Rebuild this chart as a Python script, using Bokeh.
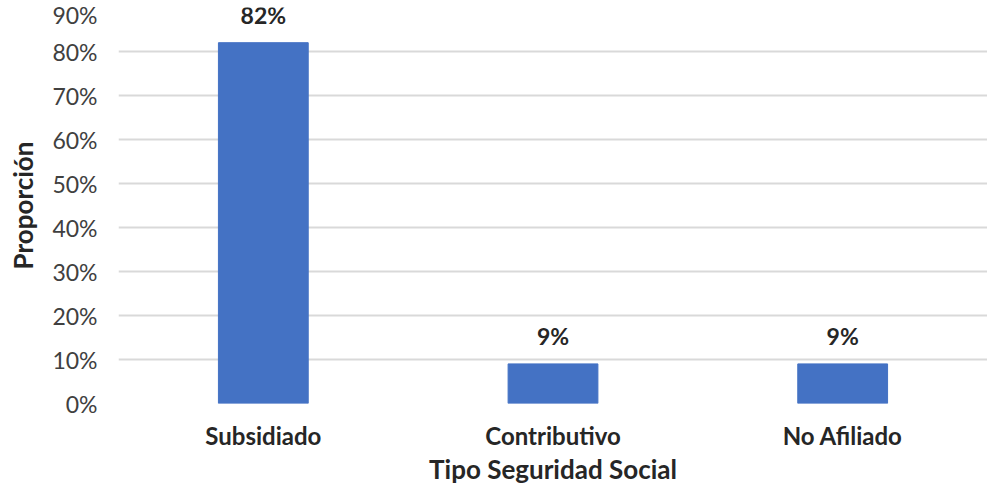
from bokeh.plotting import figure
from bokeh.models import (ColumnDataSource, FixedTicker, NumeralTickFormatter, Range1d,
                          FactorRange, LabelSet)
from bokeh.core.properties import value
from bokeh.embed import file_html
from bokeh.resources import INLINE

categories = ["Subsidiado", "Contributivo", "No Afiliado"]
proportions = [0.82, 0.09, 0.09]
bar_labels = ["82%", "9%", "9%"]
y_ticks = [0.0, 0.1, 0.2, 0.3, 0.4, 0.5, 0.6, 0.7, 0.8, 0.9]
x_title = "Tipo Seguridad Social"
y_title = "Proporción"

FONT = "Lato"
DARK = "#262626"

src = ColumnDataSource(dict(cat=categories, val=proportions, lab=bar_labels))

p = figure(width=987, height=487, x_range=FactorRange(*categories, range_padding=0),
           y_range=Range1d(0, 0.9), output_backend="svg", toolbar_location=None,
           min_border_left=118, min_border_right=0, min_border_top=7, min_border_bottom=81)
p.outline_line_color = None
p.background_fill_color = "white"

p.vbar(x="cat", top="val", width=0.31, source=src, fill_color="#4472C4", line_color="#4472C4")

labels = LabelSet(x="cat", y="val", text="lab", source=src, text_align="center",
                  text_baseline="alphabetic", y_offset=19, text_font=value(FONT),
                  text_font_style="bold", text_font_size="23px", text_color=DARK)
p.add_layout(labels)

p.xgrid.grid_line_color = None
p.ygrid.grid_line_color = "#d9d9d9"
p.ygrid.grid_line_width = 2
p.ygrid.ticker = FixedTicker(ticks=y_ticks)

ya = p.yaxis[0]
ya.ticker = FixedTicker(ticks=y_ticks)
ya.formatter = NumeralTickFormatter(format="0%")
ya.axis_line_color = None
ya.major_tick_line_color = None
ya.minor_tick_line_color = None
ya.major_tick_out = 0
ya.major_tick_in = 0
ya.major_label_text_font = FONT
ya.major_label_text_font_size = "23px"
ya.major_label_text_color = "#404040"
ya.major_label_standoff = 21
ya.axis_label = y_title
ya.axis_label_text_font = FONT
ya.axis_label_text_font_size = "26px"
ya.axis_label_text_font_style = "bold"
ya.axis_label_text_color = DARK
ya.axis_label_standoff = 10

xa = p.xaxis[0]
xa.axis_line_color = None
xa.major_tick_line_color = None
xa.minor_tick_line_color = None
xa.major_tick_out = 0
xa.major_tick_in = 0
xa.major_label_text_font = FONT
xa.major_label_text_font_size = "24px"
xa.major_label_text_font_style = "bold"
xa.major_label_text_color = DARK
xa.major_label_standoff = 17
xa.axis_label = x_title
xa.axis_label_text_font = FONT
xa.axis_label_text_font_size = "26px"
xa.axis_label_text_font_style = "bold"
xa.axis_label_text_color = DARK
xa.axis_label_standoff = 0

open("out.html", "w").write(file_html(p, INLINE))
